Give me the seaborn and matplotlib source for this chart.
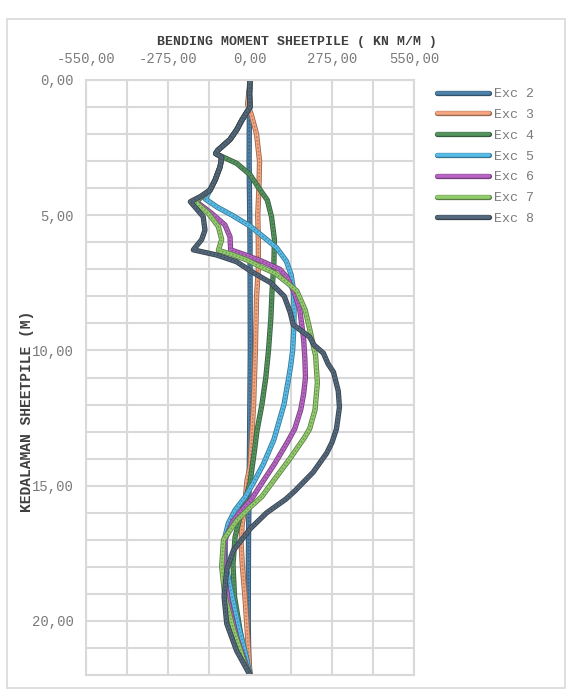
import numpy as np
import pandas as pd
import matplotlib
matplotlib.use("Agg")
import matplotlib.pyplot as plt
import matplotlib.patheffects as pe
from matplotlib.ticker import MultipleLocator, FuncFormatter
from matplotlib.patches import Rectangle
import seaborn as sns

# ---------------- data ----------------
series_names = ["Exc 2", "Exc 3", "Exc 4", "Exc 5", "Exc 6", "Exc 7", "Exc 8"]

exc2_depth = [0, 1, 3, 6, 10, 14, 17, 20, 21.5, 22]
exc2_moment = [0, -2, -3, 0, 1, -2, -5, -6, -4, 0]

exc3_depth = [0, 0.5, 0.9, 1.3, 2, 3, 4, 5, 6, 7, 8, 10, 12, 13, 14.3, 14.8,
              16, 16.4, 17.1, 17.9, 19.1, 20.6, 22]
exc3_moment = [0, -4, -8, 5, 22, 32, 30, 26, 28, 28, 22, 18, 12, 7, 0, -10,
               -20, -26, -30, -26, -17, -8, 0]

exc4_depth = [0, 0.5, 1.0, 1.5, 1.85, 2.2, 2.6, 2.72, 3.08, 3.5, 4.0, 4.44, 5.05,
              5.9, 6.8, 7.8, 8.8, 10, 11, 12, 13, 13.7, 14.9, 15.5, 16.0, 16.9,
              17.9, 19.1, 20.3, 21.6, 22]
exc4_moment = [0, -2, 0, -28, -45, -67, -108, -115, -45, 0, 30, 58, 72,
               82, 80, 74, 70, 62, 53, 40, 23, 15, 0, -15, -30, -50,
               -57, -52, -34, -11, 0]

exc5_depth = [0, 0.5, 1.0, 1.5, 1.85, 2.2, 2.6, 2.72, 2.85, 3.2, 3.7, 4.07, 4.4,
              4.7, 5.0, 5.4, 5.8, 6.2, 6.7, 7.2, 7.7, 8.5, 9.2, 10, 10.6, 11, 12,
              13.3, 14.2, 14.9, 15.4, 15.9, 16.4, 16.9, 17.5, 18.1, 19.2, 20.3,
              21.3, 22]
exc5_moment = [0, -2, 0, -28, -45, -67, -108, -115, -95, -100, -117, -134, -150,
               -110, -60, 0, 45, 89, 122, 138, 145, 148, 147, 143, 136, 130, 114,
               80, 45, 11, -15, -50, -73, -84, -83, -78, -58, -36,
               -13, 0]

exc6_depth = [0, 0.5, 1.0, 1.5, 1.85, 2.2, 2.6, 2.72, 2.85, 3.2, 3.7, 4.07, 4.3,
              4.5, 4.93, 5.36, 5.8, 6.28, 6.45, 6.7, 7.0, 7.3, 7.9, 8.5, 9.0, 9.6,
              10.3, 11, 11.6, 12.2, 12.9, 13.4, 14.2, 15.0, 15.5, 16.0, 16.3,
              17.0, 18.1, 19.3, 20.6, 21.7, 22]
exc6_moment = [0, -2, 0, -28, -45, -67, -108, -115, -95, -100, -117, -134, -160,
               -180, -129, -84, -67, -65, -20, 40, 100, 125, 150, 167, 173, 180,
               184, 186, 180, 170, 150, 125, 82, 34, 5, -35, -56,
               -84, -88, -73, -45, -11, 0]

exc7_depth = [0, 0.5, 1.0, 1.5, 1.85, 2.2, 2.6, 2.72, 2.85, 3.2, 3.7, 4.07, 4.3,
              4.5, 4.93, 5.42, 5.9, 6.3, 6.45, 6.65, 6.9, 7.15, 7.5, 7.8, 8.5,
              9.2, 10.2, 11.2, 12.2, 12.9, 13.2, 14.0, 14.8, 15.4, 15.8, 16.3,
              17.0, 18.0, 19.1, 20.3, 21.6, 22]
exc7_moment = [0, -2, 0, -28, -45, -67, -108, -115, -95, -100, -117, -134, -160,
               -185, -140, -106, -95, -106, -60, -11, 34, 85, 125, 157, 185,
               200, 220, 226, 218, 200, 184, 134, 80, 40, 0, -45,
               -89, -95, -84, -56, -17, 0]

exc8_depth = [0, 0.5, 1.0, 1.5, 1.85, 2.2, 2.6, 2.72, 2.85, 3.2, 3.7, 4.07, 4.3,
              4.5, 5.05, 5.55, 5.9, 6.28, 6.47, 6.72, 7.05, 7.5, 8.0, 8.6, 9.05,
              9.5, 9.8, 10.1, 10.5, 10.8, 11.5, 12.1, 12.9, 13.4, 13.8, 14.5,
              15.2, 15.5, 16.0, 16.6, 17.4, 18.1, 19.1, 20.1, 21.1, 22]
exc8_moment = [0, -2, 0, -28, -45, -67, -108, -115, -95, -100, -117, -134, -165,
               -200, -157, -151, -162, -190, -112, -45, 0, 70, 115, 135, 145,
               200, 215, 246, 262, 280, 296, 300, 290, 275, 257, 212,
               150, 120, 56, 0, -56, -78, -87, -78, -45, 0]

x_ticks = [-550, -275, 0, 275, 550]
y_ticks = [0, 5, 10, 15, 20]

colors = ["#4f82aa", "#f4a57e", "#55945f", "#58bce9", "#b865c4", "#93cc6e", "#55697c"]

# ---------------- build long table ----------------
depths = [exc2_depth, exc3_depth, exc4_depth, exc5_depth, exc6_depth, exc7_depth, exc8_depth]
moments = [exc2_moment, exc3_moment, exc4_moment, exc5_moment, exc6_moment, exc7_moment, exc8_moment]
frames = []
for name, d, m in zip(series_names, depths, moments):
    frames.append(pd.DataFrame({"depth": d, "moment": m, "series": name}))
df = pd.concat(frames, ignore_index=True)

# ---------------- figure ----------------
sns.set_theme(style="white")
plt.rcParams["font.family"] = ["Liberation Mono", "DejaVu Sans Mono"]

fig = plt.figure(figsize=(5.72, 6.95), dpi=100)
ax = fig.add_axes([86 / 572, 1 - 675 / 695, (414 - 86) / 572, (675 - 80) / 695])

palette = dict(zip(series_names, colors))


def darker(c, f=0.62):
    r, g, b = matplotlib.colors.to_rgb(c)
    return (r * f, g * f, b * f)


effects = {c: [pe.Stroke(linewidth=3.8, foreground=darker(c)), pe.Normal()] for c in colors}

for name, c in zip(series_names, colors):
    sub = df[df["series"] == name]
    sns.lineplot(data=sub, x="moment", y="depth", color=c, sort=False,
                 estimator=None, linewidth=2.6, ax=ax, label=name,
                 path_effects=effects[c])
    # beaded texture like the reference
    sns.lineplot(data=sub, x="moment", y="depth", color=darker(c, 0.55), sort=False,
                 estimator=None, linewidth=1.0, ax=ax, alpha=0.55,
                 linestyle=(0, (1.2, 1.4)), legend=False)

ax.set_xlim(-550, 550)
ax.set_ylim(22, 0)
ax.xaxis.tick_top()
ax.set_xticks(x_ticks)
ax.set_yticks(y_ticks)
ax.xaxis.set_minor_locator(MultipleLocator(137.5))
ax.yaxis.set_minor_locator(MultipleLocator(1))
fmt = FuncFormatter(lambda v, p: f"{v:.2f}".replace(".", ","))
ax.xaxis.set_major_formatter(fmt)
ax.yaxis.set_major_formatter(fmt)
ax.tick_params(axis="both", which="both", length=0, labelsize=10, labelcolor="#7a7a7a")
ax.tick_params(axis="x", pad=10)
ax.tick_params(axis="y", pad=9)
ax.grid(True, which="both", color="#d9d9d9", linewidth=1.5)
ax.set_axisbelow(True)
for s in ax.spines.values():
    s.set_color("#d9d9d9")
    s.set_linewidth(1.5)
ax.set_xlabel("")
ax.set_ylabel("")

# legend
handles, labels = ax.get_legend_handles_labels()
if ax.get_legend() is not None:
    ax.get_legend().remove()
for h, c in zip(handles, colors):
    h.set_linewidth(2.6)
    h.set_path_effects(effects[c])
leg = fig.legend(handles, labels, loc="upper left", bbox_to_anchor=(437 / 572, 1 - 88 / 695),
                 frameon=False, fontsize=9.5, handlelength=3.95, handletextpad=0.4,
                 labelspacing=0.65, borderpad=0, borderaxespad=0)
for t in leg.get_texts():
    t.set_color("#7a7a7a")

# titles
fig.text(297 / 572, 1 - 41.5 / 695, "BENDING MOMENT SHEETPILE ( KN M/M )",
         ha="center", va="center", fontsize=9.5, fontweight="bold", color="#3f3f3f")
fig.text(27 / 572, 1 - 411 / 695, "KEDALAMAN SHEETPILE (M)", rotation=90,
         ha="center", va="center", fontsize=10.5, fontweight="bold", color="#3f3f3f")

# chart frame
fig.patches.append(Rectangle((7 / 572, 1 - 688 / 695), 558 / 572, 669 / 695,
                             transform=fig.transFigure, fill=False,
                             edgecolor="#d9d9d9", linewidth=1.2))

fig.savefig("out.png", dpi=100, facecolor="white")
